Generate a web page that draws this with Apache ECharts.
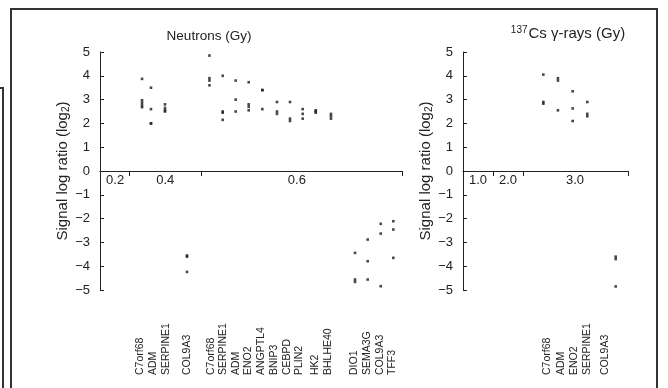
<!DOCTYPE html>
<html lang="en">
<head>
<meta charset="utf-8">
<title>Signal log ratio - neutrons / gamma</title>
<script src="https://cdn.jsdelivr.net/npm/echarts@6/dist/echarts.min.js"></script>
</head>
<body style="margin:0;background:#fff">
<div id="main" style="width:668px;height:388px;"></div>
<script type="text/javascript">
// x positions are in "slot" units along each panel's x axis
var neutronGenes = ['C7orf68', 'ADM', 'SERPINE1', 'COL9A3',
    'C7orf68', 'SERPINE1', 'ADM', 'ENO2', 'ANGPTL4', 'BNIP3', 'CEBPD', 'PLIN2', 'HK2', 'BHLHE40',
    'DIO1', 'SEMA3G', 'COL9A3', 'TFF3'];
var neutronPos = [3.48, 4.22, 5.38, 7.2,
    9.06, 10.16, 11.23, 12.31, 13.44, 14.65, 15.73, 16.78, 17.86, 19.12,
    21.11, 22.16, 23.24, 24.28];
var neutronLabelPos = [3.35, 4.4, 5.45, 7.2,
    9.2, 10.2, 11.25, 12.3, 13.3, 14.4, 15.5, 16.5, 17.8, 18.9,
    21.0, 22.1, 23.2, 24.2];
var neutronValues = [
    [3.87, 2.97, 2.87, 2.76, 2.68],
    [3.5, 2.6, 2.0, 2.0],
    [2.8, 2.65, 2.55, 2.5],
    [-3.55, -3.6, -4.24],
    [4.85, 3.9, 3.8, 3.6],
    [4.0, 2.5, 2.45, 2.15],
    [3.8, 3.0, 2.5],
    [3.73, 2.8, 2.7, 2.55],
    [3.4, 3.4, 2.6],
    [2.9, 2.5, 2.4],
    [2.9, 2.2, 2.1],
    [2.6, 2.4, 2.2],
    [2.55, 2.5, 2.45],
    [2.4, 2.3, 2.2],
    [-3.44, -4.56, -4.66],
    [-2.88, -3.79, -4.56],
    [-2.22, -2.63, -4.84],
    [-2.11, -2.46, -3.65]
];
var neutronDoses = ['0.2', '0.4', '0.6'];
var neutronDosePos = [1.25, 5.4, 16.3];
var neutronDoseEdges = [2.4, 8.36, 25];

var gammaGenes = ['C7orf68', 'ADM', 'ENO2', 'SERPINE1', 'COL9A3'];
var gammaPos = [6.65, 7.86, 9.08, 10.29, 12.64];
var gammaLabelPos = [7.0, 8.1, 9.2, 10.25, 11.75];
var gammaValues = [
    [4.05, 2.9, 2.83],
    [3.9, 3.8, 2.55],
    [3.35, 2.63, 2.1],
    [2.9, 2.4, 2.3],
    [-3.6, -3.7, -4.85]
];
var gammaDoses = ['1.0', '2.0', '3.0'];
var gammaDosePos = [1.24, 3.72, 9.27];
var gammaDoseEdges = [2.48, 4.97, 13.66];

var FONT = 'Liberation Sans, Arial, sans-serif';
var INK = '#222';
var GRID_H = 238;   // plot height, the zero line sits at its middle

function toPoints(pos, values) {
    var out = [];
    values.forEach(function (vs, i) {
        vs.forEach(function (v) { out.push([pos[i], v]); });
    });
    return out;
}
function lookup(posArr, names) {
    return function (v) {
        for (var i = 0; i < posArr.length; i++) {
            if (Math.abs(posArr[i] - v) < 1e-6) return names[i];
        }
        return '';
    };
}
// dose axis drawn along y = 0
function doseAxis(grid, max, edges, centers, names) {
    return {
        type: 'value', gridIndex: grid, min: 0, max: max, position: 'bottom', offset: -GRID_H / 2,
        axisLine: { show: true, onZero: false, lineStyle: { color: INK, width: 1 } },
        axisTick: { show: true, customValues: edges, length: 5, lineStyle: { color: INK } },
        axisLabel: { customValues: centers, formatter: lookup(centers, names), margin: 3,
            color: INK, fontSize: 13, fontFamily: FONT },
        splitLine: { show: false }
    };
}
function geneAxis(grid, max, pos, names) {
    return {
        type: 'value', gridIndex: grid, min: 0, max: max, position: 'bottom', offset: 85,
        axisLine: { show: false, onZero: false }, axisTick: { show: false },
        axisLabel: { customValues: pos, formatter: lookup(pos, names), rotate: 90, inside: true,
            margin: 0, color: INK, fontSize: 10.5, fontFamily: FONT },
        splitLine: { show: false }
    };
}
function logAxis(grid) {
    return {
        type: 'value', gridIndex: grid, min: -5, max: 5, interval: 1,
        name: 'Signal log ratio (log{sub|2})', nameLocation: 'middle', nameGap: 26, nameRotate: 90,
        nameTextStyle: { fontSize: 15, color: INK, fontFamily: FONT,
            rich: { sub: { fontSize: 10, fontFamily: FONT, color: INK, padding: [7, 0, 0, 0] } } },
        axisLine: { show: true, onZero: false, lineStyle: { color: INK, width: 1 } },
        axisTick: { show: true, inside: true, length: 4, lineStyle: { color: INK } },
        axisLabel: { margin: 10, fontSize: 13, color: INK, fontFamily: FONT,
            formatter: function (v) { return v < 0 ? '\u2212' + Math.abs(v) : String(v); } },
        splitLine: { show: false }
    };
}

var myChart = echarts.init(document.getElementById('main'), null, { renderer: 'canvas' });
myChart.setOption({
    animation: false,
    backgroundColor: '#fff',
    title: [{
        text: 'Neutrons (Gy)', left: 209, top: 29, textAlign: 'center', padding: 0,
        textStyle: { fontSize: 13.5, fontWeight: 'normal', color: INK, fontFamily: FONT }
    }, {
        text: '{sup|137}Cs \u03b3-rays (Gy)', left: 568, top: 25, textAlign: 'center', padding: 0,
        textStyle: { fontSize: 15, fontWeight: 'normal', color: INK, fontFamily: FONT,
            rich: { sup: { fontSize: 10, color: INK, fontFamily: FONT, padding: [0, 1, 7, 0] } } }
    }],
    grid: [
        { left: 100, right: 266, top: 52, bottom: 98, outerBoundsMode: 'none' },
        { left: 463, right: 40, top: 52, bottom: 98, outerBoundsMode: 'none' }
    ],
    xAxis: [
        doseAxis(0, 25, neutronDoseEdges, neutronDosePos, neutronDoses),
        geneAxis(0, 25, neutronLabelPos, neutronGenes),
        doseAxis(1, 13.66, gammaDoseEdges, gammaDosePos, gammaDoses),
        geneAxis(1, 13.66, gammaLabelPos, gammaGenes)
    ],
    yAxis: [logAxis(0), logAxis(1)],
    series: [{
        name: 'Neutrons', type: 'scatter', xAxisIndex: 0, yAxisIndex: 0,
        symbol: 'rect', symbolSize: [2.6, 2.6], itemStyle: { color: '#1a1a1a' },
        data: toPoints(neutronPos, neutronValues)
    }, {
        name: 'Gamma', type: 'scatter', xAxisIndex: 2, yAxisIndex: 1,
        symbol: 'rect', symbolSize: [2.6, 2.6], itemStyle: { color: '#1a1a1a' },
        data: toPoints(gammaPos, gammaValues)
    }],
    graphic: [{
        type: 'polyline', silent: true,
        shape: { points: [[11, 395], [11, 9], [657, 9], [657, 395]] },
        style: { stroke: '#333', lineWidth: 2, fill: 'none' }
    }, {
        type: 'polyline', silent: true,
        shape: { points: [[0, 88], [3, 88], [3, 395]] },
        style: { stroke: '#333', lineWidth: 2, fill: 'none' }
    }]
});
</script>
</body>
</html>
